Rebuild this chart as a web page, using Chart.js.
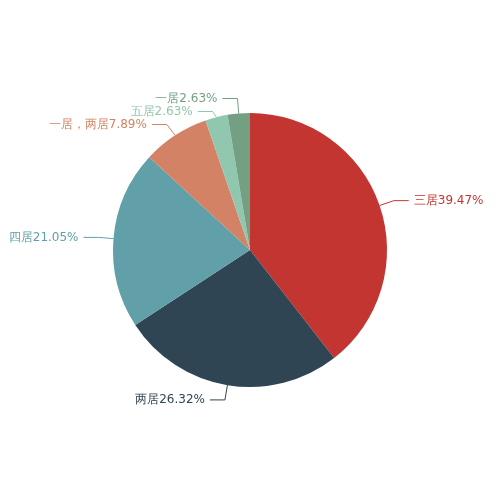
<!DOCTYPE html>
<html>
<head>
<meta charset="utf-8">
<script src="https://cdn.jsdelivr.net/npm/chart.js@4"></script>
<style>
  body { margin: 0; background: #fff; }
  #wrap { width: 500px; height: 500px; }
</style>
</head>
<body>
<div id="wrap"><canvas id="pieChart"></canvas></div>
<script>
const categories = ['三居', '两居', '四居', '一居，两居', '五居', '一居'];
const shares = [39.47, 26.32, 21.05, 7.89, 2.63, 2.63];
const colors = ['#c23531', '#2f4554', '#61a0a8', '#d48265', '#91c7ae', '#749f83'];

const labelPlugin = {
  id: 'pieLabels',
  afterDatasetsDraw(chart) {
    const ctx = chart.ctx;
    const arcs = chart.getDatasetMeta(0).data;
    const items = arcs.map((arc, i) => {
      const mid = (arc.startAngle + arc.endAngle) / 2;
      const r = arc.outerRadius;
      const cos = Math.cos(mid), sin = Math.sin(mid);
      return {
        i, left: cos < 0,
        p1: { x: arc.x + cos * r, y: arc.y + sin * r },
        p2: { x: arc.x + cos * (r + 15), y: arc.y + sin * (r + 15) }
      };
    });
    // push overlapping labels apart on each side
    [true, false].forEach(side => {
      const group = items.filter(it => it.left === side).sort((a, b) => a.p2.y - b.p2.y);
      for (let k = 1; k < group.length; k++) {
        if (group[k].p2.y - group[k - 1].p2.y < 13) group[k].p2.y = group[k - 1].p2.y + 13;
      }
    });
    ctx.save();
    ctx.font = '12px "DejaVu Sans", sans-serif';
    ctx.textBaseline = 'middle';
    ctx.lineWidth = 1;
    items.forEach(it => {
      const c = colors[it.i];
      const dir = it.left ? -1 : 1;
      const p3 = { x: it.p2.x + dir * 15, y: it.p2.y };
      ctx.strokeStyle = c;
      ctx.beginPath();
      ctx.moveTo(it.p1.x, it.p1.y);
      ctx.lineTo(it.p2.x, it.p2.y);
      ctx.lineTo(p3.x, p3.y);
      ctx.stroke();
      ctx.fillStyle = c;
      ctx.textAlign = it.left ? 'right' : 'left';
      ctx.fillText(categories[it.i] + shares[it.i].toFixed(2) + '%', p3.x + dir * 5, p3.y);
    });
    ctx.restore();
  }
};

new Chart(document.getElementById('pieChart'), {
  type: 'pie',
  data: {
    labels: categories,
    datasets: [{ data: shares, backgroundColor: colors, borderWidth: 0 }]
  },
  options: {
    responsive: true,
    maintainAspectRatio: false,
    animation: false,
    layout: { padding: 113 },
    plugins: { legend: { display: false }, tooltip: { enabled: false } }
  },
  plugins: [labelPlugin]
});
</script>
</body>
</html>
